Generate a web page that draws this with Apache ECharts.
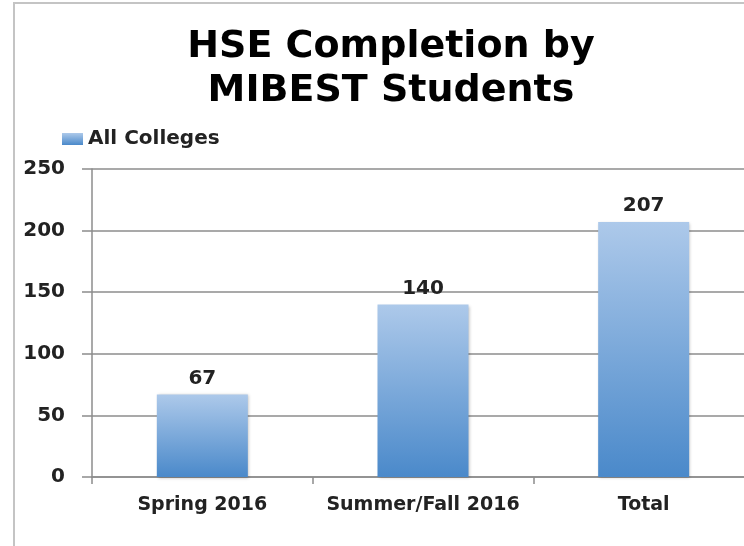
<!DOCTYPE html>
<html>
<head>
<meta charset="utf-8">
<script src="https://cdn.jsdelivr.net/npm/echarts@6/dist/echarts.min.js"></script>
<style>
  html, body { margin: 0; padding: 0; background: #fff; overflow: hidden; }
  /* the plot runs a little past the right edge of the picture */
  #main { width: 754px; height: 546px; }
</style>
</head>
<body>
<div id="main"></div>
<script>
/* data */
var categories = ['Spring 2016', 'Summer/Fall 2016', 'Total'];
var completions = [67, 140, 207];
var seriesName = 'All Colleges';
var yTicks = [0, 50, 100, 150, 200, 250];

var font = '"DejaVu Sans", sans-serif';

var chart = echarts.init(document.getElementById('main'));
chart.setOption({
    animation: false,
    backgroundColor: '#fff',
    title: {
        text: 'HSE Completion by\nMIBEST Students',
        left: 386,
        top: 20,
        textAlign: 'center',
        textStyle: {
            fontFamily: font,
            fontSize: 38,
            fontWeight: 'bold',
            color: '#000',
            lineHeight: 44
        }
    },
    legend: {
        data: [seriesName],
        icon: 'rect',
        left: 57,
        top: 124,
        itemWidth: 21,
        itemHeight: 12,
        textStyle: { fontFamily: font, fontSize: 20, fontWeight: 'bold', color: '#222' }
    },
    graphic: [{
        type: 'rect',
        silent: true,
        shape: { x: 14, y: 3, width: 800, height: 600 },
        style: { fill: 'none', stroke: '#c4c4c4', lineWidth: 2 }
    }],
    grid: { left: 92, right: 0, top: 169, bottom: 69 },
    xAxis: {
        type: 'category',
        data: categories,
        axisLine: { lineStyle: { color: '#8c8c8c', width: 1.5 } },
        axisTick: { show: true, length: 7, lineStyle: { color: '#8c8c8c', width: 1.5 } },
        axisLabel: { interval: 0, fontFamily: font, fontSize: 19, fontWeight: 'bold', color: '#222', margin: 19 }
    },
    yAxis: {
        type: 'value',
        min: yTicks[0],
        max: yTicks[yTicks.length - 1],
        interval: 50,
        axisLine: { show: true, lineStyle: { color: '#8c8c8c', width: 1.5 } },
        axisTick: { show: true, inside: false, length: 10, lineStyle: { color: '#8c8c8c', width: 1.5 } },
        axisLabel: { fontFamily: font, fontSize: 20, fontWeight: 'bold', color: '#222', margin: 27 },
        splitLine: { lineStyle: { color: '#8c8c8c', width: 1.5 } }
    },
    series: [{
        name: seriesName,
        type: 'bar',
        data: completions,
        barWidth: 91,
        itemStyle: {
            color: new echarts.graphic.LinearGradient(0, 0, 0, 1, [
                { offset: 0, color: '#adc9ea' },
                { offset: 1, color: '#4a89ca' }
            ]),
            shadowColor: 'rgba(0,0,0,0.25)',
            shadowBlur: 3,
            shadowOffsetX: 1,
            shadowOffsetY: 1
        },
        label: {
            show: true,
            position: 'top',
            distance: 6,
            fontFamily: font,
            fontSize: 20,
            fontWeight: 'bold',
            color: '#222'
        }
    }]
});
</script>
</body>
</html>
